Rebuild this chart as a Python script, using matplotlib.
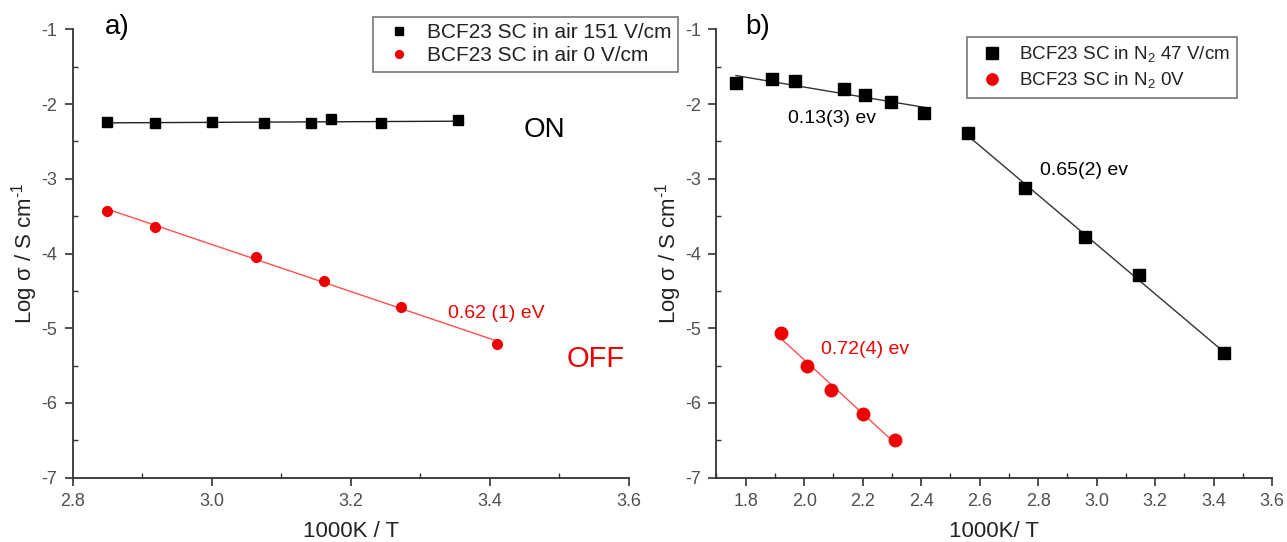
import numpy as np
import matplotlib
matplotlib.use("Agg")
import matplotlib.pyplot as plt
from matplotlib.ticker import MultipleLocator

plt.rcParams['font.family'] = ['Liberation Sans', 'DejaVu Sans']
plt.rcParams['mathtext.fontset'] = 'custom'
plt.rcParams['mathtext.rm'] = 'Liberation Sans'
plt.rcParams['mathtext.it'] = 'Liberation Sans:italic'

# ---- (a) BCF23 single crystal in air ----
a_on_x = [2.850, 2.919, 3.000, 3.076, 3.143, 3.172, 3.244, 3.354]
a_on_y = [-2.237, -2.260, -2.237, -2.260, -2.260, -2.200, -2.260, -2.214]
a_off_x = [2.850, 2.919, 3.064, 3.161, 3.273, 3.410]
a_off_y = [-3.428, -3.640, -4.044, -4.369, -4.713, -5.209]

# ---- (b) BCF23 single crystal in N2 ----
b_on_low_x = [1.767, 1.891, 1.969, 2.136, 2.209, 2.297, 2.410]
b_on_low_y = [-1.723, -1.670, -1.688, -1.804, -1.880, -1.969, -2.125]
b_on_high_x = [2.559, 2.754, 2.959, 3.146, 3.435]
b_on_high_y = [-2.384, -3.120, -3.776, -4.289, -5.337]
b_off_x = [1.922, 2.010, 2.092, 2.202, 2.311]
b_off_y = [-5.070, -5.500, -5.820, -6.146, -6.500]

RED = '#ee0000'
RED_LINE = '#ff5050'
BLACK = '#000000'
TICK_COLOR = '#505050'
SPINE = '#333333'

W, H = 1287, 542
fig = plt.figure(figsize=(W / 100, H / 100), dpi=100)
ax_a = fig.add_axes([72.7 / W, 1 - 477.7 / H, 555.9 / W, 448.4 / H])
ax_b = fig.add_axes([716.4 / W, 1 - 477.7 / H, 555.6 / W, 448.4 / H])


def fit_line(ax, x, y, color, lw=1.0):
    k, b = np.polyfit(x, y, 1)
    xs = np.array([min(x), max(x)])
    ax.plot(xs, k * xs + b, color=color, lw=lw, zorder=2)


def style_axes(ax, xlim, xlabel):
    ax.set_xlim(*xlim)
    ax.set_ylim(-7, -1)
    ax.xaxis.set_major_locator(MultipleLocator(0.2))
    ax.xaxis.set_minor_locator(MultipleLocator(0.1))
    ax.yaxis.set_major_locator(MultipleLocator(1))
    ax.yaxis.set_minor_locator(MultipleLocator(0.5))
    ax.xaxis.set_major_formatter(plt.FuncFormatter(lambda v, p: f"{v:.1f}"))
    ax.yaxis.set_major_formatter(plt.FuncFormatter(lambda v, p: f"{v:.0f}"))
    for s in ('top', 'right'):
        ax.spines[s].set_visible(False)
    for s in ('left', 'bottom'):
        ax.spines[s].set_color(SPINE)
        ax.spines[s].set_linewidth(1.3)
    ax.tick_params(which='major', direction='out', length=6, width=1.2,
                   color=SPINE, labelsize=13, labelcolor=TICK_COLOR, pad=5)
    ax.tick_params(which='minor', direction='in', length=3.5, width=1.0,
                   color=SPINE)
    ax.set_xlabel(xlabel, fontsize=16, color='#222222', labelpad=8)
    ax.set_ylabel(r'Log σ / S cm$^{\text{-1}}$', fontsize=16,
                  color='#222222', labelpad=1)


# Panel (a)
fit_line(ax_a, a_on_x, a_on_y, '#222222')
fit_line(ax_a, a_off_x, a_off_y, RED_LINE)
ax_a.plot(a_on_x, a_on_y, 's', color=BLACK, ms=7.5, zorder=3,
          label='BCF23 SC in air 151 V/cm')
ax_a.plot(a_off_x, a_off_y, 'o', color=RED, ms=7, zorder=3,
          label='BCF23 SC in air 0 V/cm')
style_axes(ax_a, (2.8, 3.6), '1000K / T')
ax_a.text(2.846, -0.969, 'a)', fontsize=20, ha='left', va='center')
ax_a.text(3.479, -2.348, 'ON', fontsize=20, ha='center', va='center',
          color=BLACK)
ax_a.text(3.553, -5.414, 'OFF', fontsize=21, ha='center', va='center',
          color=RED)
ax_a.text(3.409, -4.798, '0.62 (1) eV', fontsize=14, ha='center',
          va='center', color=RED)
leg_a = ax_a.legend(loc='upper left', bbox_to_anchor=(373 / W, 1 - 17 / H),
                    bbox_transform=fig.transFigure, fontsize=15,
                    frameon=True, fancybox=False, borderpad=0.3,
                    handlelength=1.9, handletextpad=0.4, labelspacing=0.2,
                    borderaxespad=0, markerscale=0.8)
leg_a.get_frame().set_edgecolor('#555555')
leg_a.get_frame().set_linewidth(1.2)
for t in leg_a.get_texts():
    t.set_color('#222222')

# Panel (b)
fit_line(ax_b, b_on_low_x, b_on_low_y, '#333333')
fit_line(ax_b, b_on_high_x, b_on_high_y, '#333333')
fit_line(ax_b, b_off_x, b_off_y, RED_LINE)
ax_b.plot(b_on_low_x + b_on_high_x, b_on_low_y + b_on_high_y, 's',
          color=BLACK, ms=9, zorder=3,
          label=r'BCF23 SC in N$_{\mathregular{2}}$ 47 V/cm')
ax_b.plot(b_off_x, b_off_y, 'o', color=RED, ms=9, zorder=3,
          label=r'BCF23 SC in N$_{\mathregular{2}}$ 0V')
style_axes(ax_b, (1.7, 3.6), '1000K/ T')
ax_b.text(1.798, -0.969, 'b)', fontsize=20, ha='left', va='center')
ax_b.text(2.096, -2.187, '0.13(3) ev', fontsize=14, ha='center',
          va='center', color=BLACK)
ax_b.text(2.956, -2.884, '0.65(2) ev', fontsize=14, ha='center',
          va='center', color=BLACK)
ax_b.text(2.210, -5.28, '0.72(4) ev', fontsize=14, ha='center',
          va='center', color=RED)
leg_b = ax_b.legend(loc='upper left', bbox_to_anchor=(967 / W, 1 - 37 / H),
                    bbox_transform=fig.transFigure, fontsize=13.5,
                    frameon=True, fancybox=False, borderpad=0.4,
                    handlelength=1.9, handletextpad=0.45, labelspacing=0.3,
                    borderaxespad=0, markerscale=0.9)
leg_b.get_frame().set_edgecolor('#555555')
leg_b.get_frame().set_linewidth(1.2)
for t in leg_b.get_texts():
    t.set_color('#222222')

fig.savefig('out.png', dpi=100)
